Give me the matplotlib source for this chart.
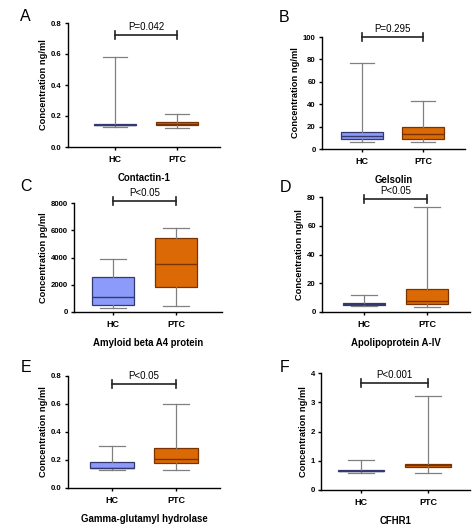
import matplotlib

matplotlib.use("Agg")
import matplotlib.pyplot as plt

plt.rcParams["font.family"] = ["Liberation Sans", "DejaVu Sans"]

W, H = 474, 529

groups = ["HC", "PTC"]
letters = ["A", "B", "C", "D", "E", "F"]
proteins = ["Contactin-1", "Gelsolin", "Amyloid beta A4 protein",
            "Apolipoprotein A-IV", "Gamma-glutamyl hydrolase", "CFHR1"]
ylabels = ["Concentration ng/ml", "Concentration ng/ml", "Concentration pg/ml",
           "Concentration ng/ml", "Concentration ng/ml", "Concentration ng/ml"]
pvalues = ["P=0.042", "P=0.295", "P<0.05", "P<0.05", "P<0.05", "P<0.001"]
ymax = [0.8, 100, 8000, 80, 0.8, 4]
ystep = [0.2, 20, 2000, 20, 0.2, 1]
ytick_fmt = ["{:.1f}", "{:.0f}", "{:.0f}", "{:.0f}", "{:.1f}", "{:.0f}"]
bracket_y = [0.72, 100, 8150, 78.6, 0.745, 3.67]

# (whislo, q1, median, q3, whishi) per panel, HC then PTC
hc_stats = [
    (0.13, 0.14, 0.145, 0.15, 0.58),
    (6, 9, 12, 15, 77),
    (300, 500, 1100, 2600, 3900),
    (4.2, 5.0, 5.5, 6.0, 11.5),
    (0.13, 0.14, 0.14, 0.185, 0.30),
    (0.58, 0.64, 0.66, 0.69, 1.02),
]
ptc_stats = [
    (0.12, 0.14, 0.148, 0.16, 0.21),
    (6, 9, 13, 20, 43),
    (450, 1800, 3550, 5450, 6200),
    (3.5, 5.5, 8, 16, 73),
    (0.13, 0.18, 0.21, 0.285, 0.60),
    (0.57, 0.77, 0.84, 0.90, 3.22),
]

# axes frames in pixels: left, right, top, bottom, HC centre, PTC centre
frames = [
    (68, 220, 23, 147, 115, 177),
    (322, 465, 37, 149, 362, 423),
    (74, 222, 203, 312, 113, 176),
    (322, 470, 197, 312, 364, 427),
    (68, 220, 376, 488, 112, 176),
    (321, 470, 373, 490, 361, 428),
]
letter_xy = [(20, 21), (279, 22), (20, 191), (280, 192), (21, 372), (280, 372)]

fill = ["#8c9bfa", "#db6a06"]
edge = ["#33386e", "#7a3300"]
grey = "#808080"

fig = plt.figure(figsize=(W / 100, H / 100), dpi=100)

for i in range(6):
    L, R, T, B, h, p = frames[i]
    ax = fig.add_axes([L / W, 1 - B / H, (R - L) / W, (B - T) / H])
    unit = p - h
    ax.set_xlim(1 - (h - L) / unit, 2 + (R - p) / unit)
    ax.set_ylim(0, ymax[i])

    stats = []
    for g, s in zip(groups, [hc_stats[i], ptc_stats[i]]):
        stats.append(dict(label=g, whislo=s[0], q1=s[1], med=s[2], q3=s[3], whishi=s[4]))
    bp = ax.bxp(stats, positions=[1, 2], widths=0.68, patch_artist=True,
                showfliers=False, showcaps=True)
    for k in range(2):
        bp["boxes"][k].set(facecolor=fill[k], edgecolor=edge[k], linewidth=0.9, zorder=2)
        bp["medians"][k].set(color=edge[k], linewidth=1.0, zorder=3)
        for w in bp["whiskers"][2 * k:2 * k + 2]:
            w.set(color=grey, linewidth=0.9)
        for c in bp["caps"][2 * k:2 * k + 2]:
            c.set(color=grey, linewidth=0.9)
            xd = c.get_xdata()
            mid = (xd[0] + xd[1]) / 2
            c.set_xdata([mid - 0.2, mid + 0.2])

    for sp in ["top", "right"]:
        ax.spines[sp].set_visible(False)
    for sp in ["left", "bottom"]:
        ax.spines[sp].set_linewidth(1.0)
    yt = [ystep[i] * n for n in range(int(round(ymax[i] / ystep[i])) + 1)]
    ax.set_yticks(yt)
    ax.set_yticklabels([ytick_fmt[i].format(v) for v in yt], fontsize=5.6,
                       fontweight="bold")
    ax.set_xticks([1, 2])
    ax.set_xticklabels(groups, fontsize=6.5, fontweight="bold")
    ax.tick_params(axis="both", length=2.5, width=1.0, pad=2)
    ax.tick_params(axis="x", pad=3)
    ax.set_ylabel(ylabels[i], fontsize=6.7, fontweight="bold", labelpad=2)
    ax.set_xlabel(proteins[i], fontsize=6.9, fontweight="bold", labelpad=7)

    # significance bracket
    px = ymax[i] / (B - T)
    by = bracket_y[i]
    ax.plot([1, 2], [by, by], color="#222222", lw=1.2, clip_on=False)
    for xx in [1, 2]:
        ax.plot([xx, xx], [by - 4 * px, by + 4 * px], color="#222222", lw=1.2,
                clip_on=False)
    ax.text(1.5, by + 3 * px, pvalues[i], ha="center", va="bottom", fontsize=7)

    lx, ly = letter_xy[i]
    fig.text(lx / W, 1 - ly / H, letters[i], fontsize=11.5, ha="left", va="baseline")

fig.savefig("out.png", dpi=100)
